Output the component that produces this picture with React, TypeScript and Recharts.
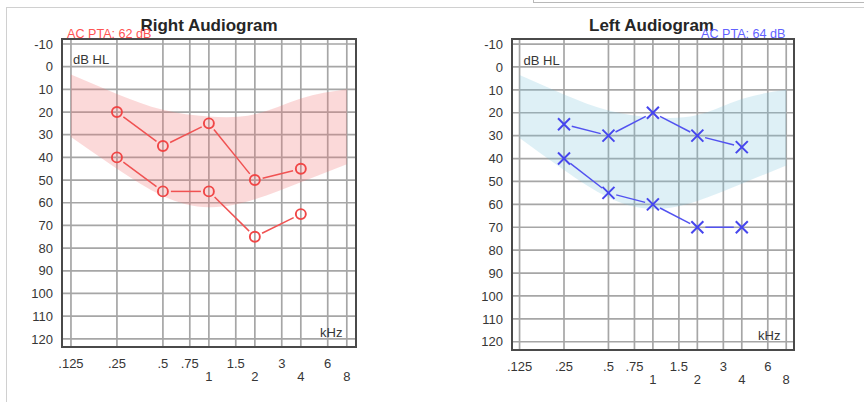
import React from 'react';
import { ComposedChart, Line, Area, XAxis, YAxis, CartesianGrid, ReferenceArea } from 'recharts';

// Audiometric frequencies (kHz) on the horizontal axis
const freqTicks = [0.125, 0.25, 0.5, 0.75, 1, 1.5, 2, 3, 4, 6, 8];
const freqLabels = ['.125', '.25', '.5', '.75', '1', '1.5', '2', '3', '4', '6', '8'];
// Octave frequencies whose labels sit on a second, lower row
const lowerRowFreqs = [1, 2, 4, 8];
// Hearing level ticks (dB HL)
const dbTicks = [-10, 0, 10, 20, 30, 40, 50, 60, 70, 80, 90, 100, 110, 120];

// Tested frequencies and thresholds per ear
const testFreqs = [0.25, 0.5, 1, 2, 4];
const rightTraceA = [20, 35, 25, 50, 45];
const rightTraceB = [40, 55, 55, 75, 65];
const leftTraceA = [25, 30, 20, 30, 35];
const leftTraceB = [40, 55, 60, 70, 70];

// Shaded reference band (top and bottom edges, dB HL)
const bandFreqs = [0.125, 0.25, 0.5, 1, 2, 4, 8];
const bandTop = [3.5, 12, 19, 22, 21, 14, 10];
const bandBottom = [31, 45, 57, 62, 58.5, 51, 43];

const rightPta = 62;
const leftPta = 64;

const DB_DOMAIN: [number, number] = [-12.2, 123.6];
const FONT = "'Liberation Sans', Arial, sans-serif";
const TEXT_COLOR = '#363636';

const bandData = bandFreqs.map((f, i) => ({ f, range: [bandTop[i], bandBottom[i]] }));
const toSeries = (vals: number[]) => testFreqs.map((f, i) => ({ f, db: vals[i] }));

const XTick = (props: any) => {
  const v = props.payload.value;
  const idx = freqTicks.indexOf(v);
  const low = lowerRowFreqs.includes(v);
  return (
    <text x={props.x} y={props.y + (low ? 34 : 20.5)} textAnchor="middle" fontSize={13} fontFamily={FONT} fill={TEXT_COLOR}>
      {idx >= 0 ? freqLabels[idx] : String(v)}
    </text>
  );
};

const YTick = (props: any) => (
  <text x={props.x} y={props.y + 4.7} textAnchor="end" fontSize={13} fontFamily={FONT} fill={TEXT_COLOR}>
    {props.payload.value}
  </text>
);

// Marker plus the connector to the next point, trimmed so it stops short of both markers
function makeDot(kind: 'o' | 'x', color: string, lineColor: string) {
  const gap = 8;
  return (props: any) => {
    const { cx, cy, index, points } = props;
    const next = points && points[index + 1];
    let seg = null;
    if (next && cx != null && next.x != null) {
      const dx = next.x - cx;
      const dy = next.y - cy;
      const len = Math.hypot(dx, dy) || 1;
      const ux = dx / len;
      const uy = dy / len;
      seg = (
        <line
          x1={cx + ux * gap}
          y1={cy + uy * gap}
          x2={next.x - ux * gap}
          y2={next.y - uy * gap}
          stroke={lineColor}
          strokeWidth={1.5}
        />
      );
    }
    const s = 6;
    const marker =
      kind === 'o' ? (
        <circle cx={cx} cy={cy} r={5} fill="none" stroke={color} strokeWidth={1.9} />
      ) : (
        <g stroke={color} strokeWidth={2}>
          <line x1={cx - s} y1={cy - s} x2={cx + s} y2={cy + s} />
          <line x1={cx - s} y1={cy + s} x2={cx + s} y2={cy - s} />
        </g>
      );
    return (
      <g key={`dot-${index}`}>
        {seg}
        {marker}
      </g>
    );
  };
}

type PanelProps = {
  left: number;
  yAxisWidth: number;
  rightMargin: number;
  xAxisHeight: number;
  xDomain: [number, number];
  bandFill: string;
  bandOpacity: number;
  markerColor: string;
  lineColor: string;
  marker: 'o' | 'x';
  traces: number[][];
};

function Panel(p: PanelProps) {
  return (
    <div style={{ position: 'absolute', left: p.left, top: 0 }}>
      <ComposedChart width={432} height={402} margin={{ top: 39, right: p.rightMargin, bottom: 0, left: 0 }}>
        <CartesianGrid stroke="#a6a6a6" strokeWidth={1.7} />
        <XAxis
          dataKey="f"
          type="number"
          scale="log"
          domain={p.xDomain}
          allowDataOverflow
          ticks={freqTicks}
          interval={0}
          tick={(t: any) => <XTick {...t} />}
          tickLine={false}
          axisLine={false}
          tickSize={0}
          tickMargin={0}
          height={p.xAxisHeight}
        />
        <YAxis
          type="number"
          reversed
          domain={DB_DOMAIN}
          allowDataOverflow
          ticks={dbTicks}
          interval={0}
          tick={(t: any) => <YTick {...t} />}
          tickLine={false}
          axisLine={false}
          tickSize={0}
          tickMargin={9}
          width={p.yAxisWidth}
        />
        <Area
          data={bandData}
          dataKey="range"
          type="natural"
          stroke="none"
          fill={p.bandFill}
          fillOpacity={p.bandOpacity}
          isAnimationActive={false}
        />
        {p.traces.map((vals, i) => (
          <Line
            key={i}
            data={toSeries(vals)}
            dataKey="db"
            stroke="none"
            dot={makeDot(p.marker, p.markerColor, p.lineColor)}
            activeDot={false}
            isAnimationActive={false}
          />
        ))}
        <ReferenceArea
          x1={p.xDomain[0]}
          x2={p.xDomain[1]}
          y1={DB_DOMAIN[0]}
          y2={DB_DOMAIN[1]}
          fill="none"
          stroke="#4a4a4a"
          strokeWidth={2}
          ifOverflow="visible"
        />
      </ComposedChart>
    </div>
  );
}

export default function App() {
  return (
    <div style={{ position: 'absolute', left: 0, top: 0, width: 864, height: 402, background: '#fff', overflow: 'hidden' }}>
      <Panel
        left={0}
        yAxisWidth={62}
        rightMargin={76}
        xAxisHeight={55}
        xDomain={[0.1092, 9.19]}
        bandFill="#f07878"
        bandOpacity={0.28}
        markerColor="#f04646"
        lineColor="#f05252"
        marker="o"
        traces={[rightTraceA, rightTraceB]}
      />
      <Panel
        left={432}
        yAxisWidth={80}
        rightMargin={70}
        xAxisHeight={52}
        xDomain={[0.1111, 9.03]}
        bandFill="#7cc4dc"
        bandOpacity={0.25}
        markerColor="#4646ee"
        lineColor="#5252f0"
        marker="x"
        traces={[leftTraceA, leftTraceB]}
      />
      <svg width={864} height={402} style={{ position: 'absolute', left: 0, top: 0, pointerEvents: 'none' }}>
        <line x1={6.5} y1={7} x2={6.5} y2={402} stroke="#d0d0d0" strokeWidth={1} />
        <line x1={6} y1={7.5} x2={864} y2={7.5} stroke="#d0d0d0" strokeWidth={1} />
        <line x1={533.5} y1={0} x2={533.5} y2={3} stroke="#b8b8b8" strokeWidth={1} />
        <line x1={533} y1={2.5} x2={864} y2={2.5} stroke="#b8b8b8" strokeWidth={1} />

        <text x={209} y={30.5} textAnchor="middle" fontSize={17} fontWeight="bold" fontFamily={FONT} fill="#262626">
          Right Audiogram
        </text>
        <text x={651.5} y={30.5} textAnchor="middle" fontSize={17} fontWeight="bold" fontFamily={FONT} fill="#262626">
          Left Audiogram
        </text>
        <text x={67} y={37.5} fontSize={12.6} fontFamily={FONT} fill="#ff5252">
          {`AC PTA: ${rightPta} dB`}
        </text>
        <text x={701} y={37.5} fontSize={12.6} fontFamily={FONT} fill="#6262ff">
          {`AC PTA: ${leftPta} dB`}
        </text>

        <text x={73} y={63.5} fontSize={13} fontFamily={FONT} fill={TEXT_COLOR}>dB HL</text>
        <text x={523.5} y={65} fontSize={13} fontFamily={FONT} fill={TEXT_COLOR}>dB HL</text>
        <text x={320} y={336.7} fontSize={13} fontFamily={FONT} fill={TEXT_COLOR}>kHz</text>
        <text x={758} y={340} fontSize={13} fontFamily={FONT} fill={TEXT_COLOR}>kHz</text>
      </svg>
    </div>
  );
}
